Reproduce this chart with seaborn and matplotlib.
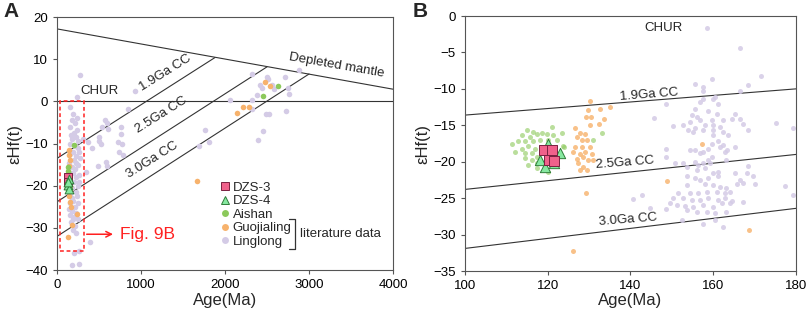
import numpy as np
import pandas as pd
import matplotlib
matplotlib.use("Agg")
import matplotlib.pyplot as plt
from matplotlib.lines import Line2D
import seaborn as sns

# ---------------- Panel A data (Age Ma, eHf) ----------------
ling_a_x = [277, 238, 931, 841, 155, 175, 234, 313, 373, 413, 504, 532, 571, 592, 611, 492, 592, 393,
            265, 202, 175, 265, 226, 758, 762, 730, 770, 733, 784, 348, 586, 503, 523, 1762, 1813, 1695,
            2318, 2496, 2516, 2714, 2885, 2754, 2766, 2437, 2377, 2318, 2060, 2318, 2488, 2528, 2726,
            2456, 2389, 2420, 2555, 2582,
            160, 200, 230, 180, 150, 210, 250, 190, 160, 230, 270, 200, 140, 175, 245, 215, 190, 260,
            230, 200, 250, 180, 220, 160, 240, 195, 150, 210, 175, 230, 150, 195, 165, 215, 185, 145,
            255, 265, 245, 170, 215, 190, 260, 140, 205, 235, 180, 220, 165, 250]
ling_a_y = [6.3, 1.0, 2.5, -1.7, -1.3, -4.4, -6.8, -8.8, -9.6, -11.1, -8.4, -6.0, -4.3, -5.2, -6.6, -15.3,
            -15.3, -33.3, -35.4, -36.0, -38.8, -38.6, -31.2, -6.0, -7.8, -9.6, -10.0, -12.1, -12.7, -16.7,
            -14.4, -9.5, -10.2, -6.8, -9.6, -10.5, 6.4, 5.8, 5.2, 5.8, 7.4, 3.1, 1.7, 3.1, 1.5, 0.3, 0.3,
            -1.7, -3.1, -3.1, -2.3, -7.0, -9.2, 3.9, 3.9, 2.9,
            -6, -7.5, -8.5, -9, -10, -10.5, -11, -12, -12.5, -13, -13.5, -14, -14.5, -15.5, -15, -16, -17,
            -17.5, -18, -19, -20, -20.5, -21.5, -22, -22.5, -23.5, -24, -25, -26, -26.5, -27, -28, -28.5,
            -29.5, -30.5, -25.5, -24, -19, -9.5, -8, -5, -3, -12, -19.5, -27.5, -4, -23, -14.5, -17, -28]
guo_a_x = [143, 143, 155, 143, 155, 143, 155, 167, 234, 175, 135, 143, 160, 1663, 2476, 2536, 2290, 2211, 2139]
guo_a_y = [-11.5, -12.7, -13.9, -15.3, -21.0, -22.5, -23.8, -25.0, -26.7, -29.2, -32.1, -18.0, -20.0,
           -18.9, 4.5, 3.6, -1.3, -1.4, -2.8]
ais_a_x = [206, 135, 127, 143, 127, 2627, 2456]
ais_a_y = [-10.4, -15.5, -16.5, -17.1, -21.0, 3.6, 1.3]
dzs3_a_x = [135, 130]
dzs3_a_y = [-17.9, -19.2]
dzs4_a_x = [140, 135, 140, 130]
dzs4_a_y = [-18.3, -19.8, -20.8, -19.0]

# ---------------- Panel B data ----------------
ling_b_x = [158.6, 166.4, 159.6, 171.5, 155.6, 157.6, 157.6, 168.5, 166.5, 148.7, 145.7,
            155.6, 156.8, 157.6, 159.9, 161.2, 160.4, 154.8, 156.0, 158.8, 160.8, 165.3,
            154.4, 156.8, 159.6, 162.4, 164.5, 166.5, 150.3, 152.8, 154.0, 155.6, 158.0, 160.0, 161.6,
            167.3, 168.5, 175.2, 179.2, 155.2, 157.6, 160.0, 162.4, 163.6, 160.0,
            159.6, 161.2, 162.4, 158.8, 155.6, 154.4, 157.6, 161.6, 163.3, 165.3,
            148.7, 148.7, 150.8, 152.8, 153.6, 155.6, 156.4, 158.8, 163.2, 168.5,
            156.8, 159.6, 162.8, 157.6, 159.2,
            156.0, 158.0, 160.0, 161.2, 165.3, 168.1, 169.7,
            153.6, 155.6, 156.8, 158.8, 161.2, 166.5, 167.3, 165.7, 170.1, 177.3, 179.4,
            153.6, 158.0, 160.0, 161.6, 163.2, 164.0, 154.4, 156.4, 158.4, 160.8, 162.8,
            151.6, 150.3, 149.5, 152.8, 154.8, 156.8, 158.8, 161.2, 162.8, 164.5, 167.3,
            151.2, 153.2, 155.2, 157.6, 160.0, 162.0, 164.0, 148.7, 153.6, 156.0, 158.4, 160.4, 163.2,
            152.4, 157.6, 160.4, 162.4, 140.7, 142.7, 144.7]
ling_b_y = [-1.6, -4.4, -8.6, -8.2, -9.3, -9.7, -10.3, -9.5, -10.3, -12.1, -14.0,
            -12.7, -11.8, -11.4, -11.4, -12.1, -11.1, -13.6, -13.8, -13.1, -13.4, -13.4,
            -14.5, -14.3, -14.3, -14.3, -14.2, -14.2, -15.1, -15.0, -15.6, -15.4, -15.0, -15.0, -15.2,
            -14.8, -15.7, -14.7, -15.4, -15.9, -15.7, -15.6, -15.9, -16.3, -16.3,
            -17.5, -17.2, -17.7, -18.2, -18.4, -18.4, -18.6, -18.0, -18.4, -18.0,
            -18.2, -19.4, -20.2, -20.2, -20.7, -20.0, -20.4, -19.8, -19.8, -20.6,
            -18.8, -19.3, -18.6, -20.2, -20.2,
            -21.1, -20.9, -21.6, -21.4, -21.5, -21.6, -22.0,
            -22.0, -22.3, -22.5, -22.3, -22.0, -22.5, -22.9, -23.0, -23.0, -23.3, -24.6,
            -23.2, -23.0, -23.2, -23.5, -23.6, -24.1, -24.3, -24.3, -24.1, -24.1, -24.3,
            -24.3, -25.0, -25.6, -25.0, -25.2, -25.3, -25.0, -25.3, -25.0, -25.4, -25.5,
            -25.9, -26.1, -26.2, -25.9, -26.2, -25.7, -25.7, -26.5, -26.6, -26.9, -26.9, -27.1, -26.9,
            -28.0, -28.5, -28.0, -29.0, -25.1, -24.6, -26.3]
guo_b_x = [130.1, 129.8, 132.7, 135.1, 129.2, 130.5, 133.5, 130.1, 132.3, 126.6, 127.8, 129.0, 127.0,
           128.2, 129.4, 126.6, 128.2, 130.2, 126.0, 127.8, 129.0, 130.6, 127.0, 128.6, 129.8, 127.4,
           128.6, 129.4, 127.8, 131.0, 129.2, 126.2, 157.3, 148.8, 168.6]
guo_b_y = [-11.7, -12.9, -12.8, -12.5, -13.8, -13.8, -14.1, -15.0, -14.8, -15.4, -16.0, -16.2, -16.6,
           -17.0, -17.0, -18.0, -18.0, -18.0, -18.6, -18.9, -18.6, -18.9, -19.6, -19.4, -19.8, -20.2,
           -20.7, -21.2, -21.2, -19.7, -24.3, -32.3, -17.5, -22.7, -29.4]
ais_b_x = [114.9, 116.5, 121.0, 123.4, 113.7, 115.7, 117.3, 118.5, 119.7, 121.3, 111.3, 112.9, 114.5,
           116.5, 118.1, 120.1, 112.1, 113.7, 115.3, 116.9, 114.5, 116.1, 114.5, 116.1, 117.3, 115.3,
           117.3, 120.1, 117.3, 123.8, 122.2, 124.0, 131.0, 133.1]
ais_b_y = [-15.6, -15.9, -15.3, -16.1, -16.3, -16.6, -16.2, -16.0, -16.2, -16.3, -17.5, -17.2, -17.1,
           -17.2, -17.0, -17.0, -18.6, -18.2, -17.9, -18.2, -18.8, -18.8, -19.5, -19.8, -19.3, -20.4,
           -20.9, -21.4, -20.2, -17.9, -17.0, -18.0, -17.0, -16.0]
dzs3_b_x = [119.1, 121.1, 120.4, 121.6]
dzs3_b_y = [-18.4, -18.4, -19.8, -19.9]
dzs4_b_x = [120.1, 122.9, 118.1, 119.3, 120.8, 121.5]
dzs4_b_y = [-17.5, -18.8, -19.8, -20.7, -19.0, -20.2]

# reference lines (endpoints)
dm_x, dm_y = [0, 4000], [17.2, 2.9]
cc_a = {"1.9": ([0, 1880], [-13.5, 10.4]), "2.5": ([0, 2500], [-23.8, 8.2]), "3.0": ([0, 3000], [-32.0, 6.5])}
cc_b = {"1.9": ([100, 180], [-13.6, -10.0]), "2.5": ([100, 180], [-23.8, -19.0]), "3.0": ([100, 180], [-31.9, -26.4])}

c_ling = "#d4cbe6"
c_guo = "#f7b26c"
c_ais = "#8cc95b"
c_dzs3 = "#f0618b"
c_dzs4 = "#86e8a0"

sns.set_style("ticks")
plt.rcParams["font.family"] = ["Liberation Sans", "DejaVu Sans"]

fig = plt.figure(figsize=(8.09, 3.17), dpi=100)
axA = fig.add_axes([0.0705, 0.148, 0.4153, 0.7981])
axB = fig.add_axes([0.5748, 0.1451, 0.4091, 0.8044])


def dots(ax, x, y, color, s, alpha=1.0, z=2):
    sns.scatterplot(x=x, y=y, ax=ax, color=color, s=s, linewidth=0, alpha=alpha, zorder=z, legend=False)


# ---- panel A ----
for xs, ys in [(dm_x, dm_y), ([0, 4000], [0, 0])] + list(cc_a.values()):
    axA.plot(xs, ys, color="#333333", lw=0.8, zorder=1)
dots(axA, ling_a_x, ling_a_y, c_ling, 16)
dots(axA, guo_a_x, guo_a_y, c_guo, 16, z=3)
dots(axA, ais_a_x, ais_a_y, c_ais, 16, z=3)
sns.scatterplot(x=dzs3_a_x, y=dzs3_a_y, ax=axA, marker="s", color=c_dzs3, s=34,
                edgecolor="#7a2040", linewidth=0.7, zorder=4, legend=False)
sns.scatterplot(x=dzs4_a_x, y=dzs4_a_y, ax=axA, marker="^", color=c_dzs4, s=40,
                edgecolor="#2f7d3a", linewidth=0.7, zorder=5, legend=False)

axA.add_patch(plt.Rectangle((35, -35.4), 285, 35.4, fill=False, ec="#ff2020", lw=1.1, ls=(0, (2.5, 1.8)), zorder=6))
axA.annotate("", xy=(700, -31.5), xytext=(320, -31.5),
             arrowprops=dict(arrowstyle="->", color="#ff2020", lw=1.1))
axA.text(750, -31.5, "Fig. 9B", color="#ff2020", fontsize=12.5, va="center")

axA.text(500, 2.4, "CHUR", fontsize=9.5, ha="center", va="center")
axA.text(1290, 6.7, "1.9Ga CC", fontsize=9.5, rotation=32, ha="center", va="center")
axA.text(1236, -3.2, "2.5Ga CC", fontsize=9.5, rotation=32, ha="center", va="center")
axA.text(1137, -14.0, "3.0Ga CC", fontsize=9.5, rotation=32, ha="center", va="center")
axA.text(3330, 8.6, "Depleted mantle", fontsize=9.5, rotation=-10, ha="center", va="center")

handles = [
    Line2D([], [], ls="", marker="s", ms=6, mfc=c_dzs3, mec="#7a2040", mew=0.7),
    Line2D([], [], ls="", marker="^", ms=6, mfc=c_dzs4, mec="#2f7d3a", mew=0.7),
    Line2D([], [], ls="", marker="o", ms=5, mfc=c_ais, mec="none"),
    Line2D([], [], ls="", marker="o", ms=5, mfc=c_guo, mec="none"),
    Line2D([], [], ls="", marker="o", ms=5, mfc=c_ling, mec="none"),
]
axA.legend(handles, ["DZS-3", "DZS-4", "Aishan", "Guojialing", "Linglong"], loc="upper left",
           bbox_to_anchor=(0.485, 0.35), frameon=False, fontsize=9.5, handlelength=0.7,
           handletextpad=0.25, labelspacing=0.1, borderpad=0, borderaxespad=0)
axA.plot([2766, 2834, 2834, 2766], [-28.0, -28.0, -35.1, -35.1], color="#333333", lw=0.9, zorder=6)
axA.text(2893, -31.4, "literature data", fontsize=9.5, va="center")

axA.set_xlim(0, 4000)
axA.set_ylim(-40, 20)
axA.set_xticks([0, 1000, 2000, 3000, 4000])
axA.set_yticks(range(-40, 21, 10))

# ---- panel B ----
for xs, ys in cc_b.values():
    axB.plot(xs, ys, color="#333333", lw=0.8, zorder=1)
dots(axB, ling_b_x, ling_b_y, c_ling, 13, alpha=0.85)
dots(axB, guo_b_x, guo_b_y, c_guo, 13, alpha=0.8, z=3)
dots(axB, ais_b_x, ais_b_y, c_ais, 13, alpha=0.6, z=3)
sns.scatterplot(x=dzs4_b_x, y=dzs4_b_y, ax=axB, marker="^", color=c_dzs4, s=55,
                edgecolor="#2f7d3a", linewidth=0.7, zorder=4, legend=False)
sns.scatterplot(x=dzs3_b_x, y=dzs3_b_y, ax=axB, marker="s", color=c_dzs3, s=60,
                edgecolor="#7a2040", linewidth=0.7, zorder=5, legend=False)

axB.text(148.0, -1.7, "CHUR", fontsize=9.5, ha="center", va="center")
axB.text(144.4, -10.8, "1.9Ga CC", fontsize=9.5, rotation=4.5, ha="center", va="center")
axB.text(138.7, -20.1, "2.5Ga CC", fontsize=9.5, rotation=4.5, ha="center", va="center")
axB.text(139.4, -27.9, "3.0Ga CC", fontsize=9.5, rotation=4.5, ha="center", va="center")

axB.set_xlim(100, 180)
axB.set_ylim(-35, 0)
axB.set_xticks(range(100, 181, 20))
axB.set_yticks(range(-35, 1, 5))

for ax in (axA, axB):
    for sp in ax.spines.values():
        sp.set_visible(True)
        sp.set_color("#555555")
        sp.set_linewidth(0.8)
    ax.tick_params(direction="out", length=3, width=0.8, colors="#555555", labelcolor="black", labelsize=9.5)
    ax.set_xlabel("Age(Ma)", fontsize=12, labelpad=1)
    ax.set_ylabel("εHf(t)", fontsize=12, labelpad=2)

fig.text(0.004, 0.995, "A", fontsize=15, fontweight="bold", va="top")
fig.text(0.51, 0.995, "B", fontsize=15, fontweight="bold", va="top")

fig.savefig("out.png", dpi=100)
